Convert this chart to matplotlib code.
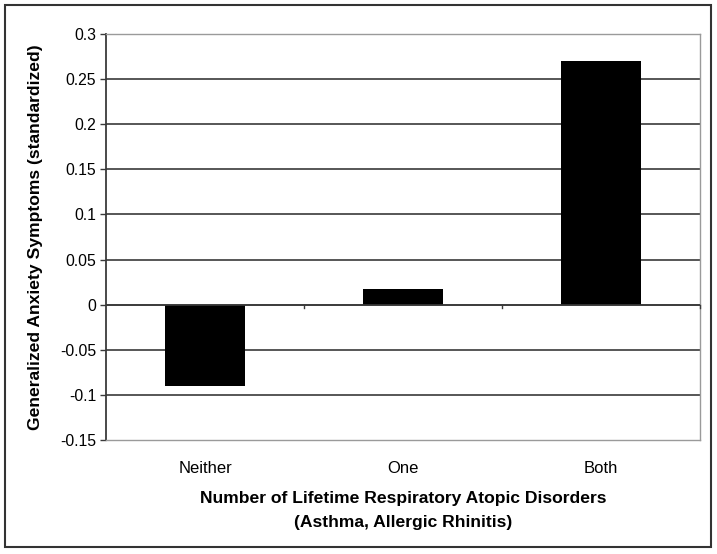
import matplotlib.pyplot as plt
from matplotlib.patches import Rectangle

plt.rcParams['font.family'] = ['Liberation Sans', 'DejaVu Sans']

# chart data
categories = ['Neither', 'One', 'Both']
anxiety = [-0.09, 0.017, 0.27]
y_ticks = [-0.15, -0.1, -0.05, 0, 0.05, 0.1, 0.15, 0.2, 0.25, 0.3]
y_tick_labels = ['-0.15', '-0.1', '-0.05', '0', '0.05', '0.1', '0.15', '0.2', '0.25', '0.3']

W, H = 717, 554
fig = plt.figure(figsize=(W / 100, H / 100), dpi=100)

# plot area in pixels: left 106, right 700, top 34, bottom 440
ax = fig.add_axes([106 / W, 1 - 440 / H, (700 - 106) / W, (440 - 34) / H])

x = range(len(categories))
ax.bar(x, anxiety, width=0.405, color='black', zorder=3)
ax.set_xlim(-0.5, len(categories) - 0.5)
ax.set_ylim(-0.15, 0.3)

# horizontal gridlines
for t in y_ticks[1:-1]:
    ax.axhline(t, color='#3a3a3a', lw=1.2, zorder=1)

# zero line with category separators
ax.axhline(0, color='#3a3a3a', lw=1.2, zorder=4)
for b in [0.5, 1.5, 2.5]:
    ax.plot([b, b], [0, -0.004], color='#3a3a3a', lw=1, zorder=4, clip_on=False)

ax.set_yticks(y_ticks)
ax.set_yticklabels(y_tick_labels, fontsize=11.3)
ax.tick_params(axis='y', length=4, width=1, color='#3a3a3a', pad=3)
ax.set_xticks(list(x))
ax.set_xticklabels(categories, fontsize=12)
ax.tick_params(axis='x', length=0, pad=15)

for side in ['top', 'right', 'bottom']:
    ax.spines[side].set_color('#9a9a9a')
    ax.spines[side].set_linewidth(1)
ax.spines['left'].set_color('#3a3a3a')
ax.spines['left'].set_linewidth(1.3)

ax.set_ylabel('Generalized Anxiety Symptoms (standardized)', fontsize=12.6,
              fontweight='bold', labelpad=12)
ax.set_xlabel('Number of Lifetime Respiratory Atopic Disorders\n(Asthma, Allergic Rhinitis)',
              fontsize=12.6, fontweight='bold', labelpad=11, linespacing=1.7)

# outer border
fig.patches.append(Rectangle((5 / W, 1 - 547 / H), (711 - 5) / W, (547 - 5) / H,
                             transform=fig.transFigure, fill=False,
                             edgecolor='#333333', lw=1.5))

fig.savefig('out.png', dpi=100)
